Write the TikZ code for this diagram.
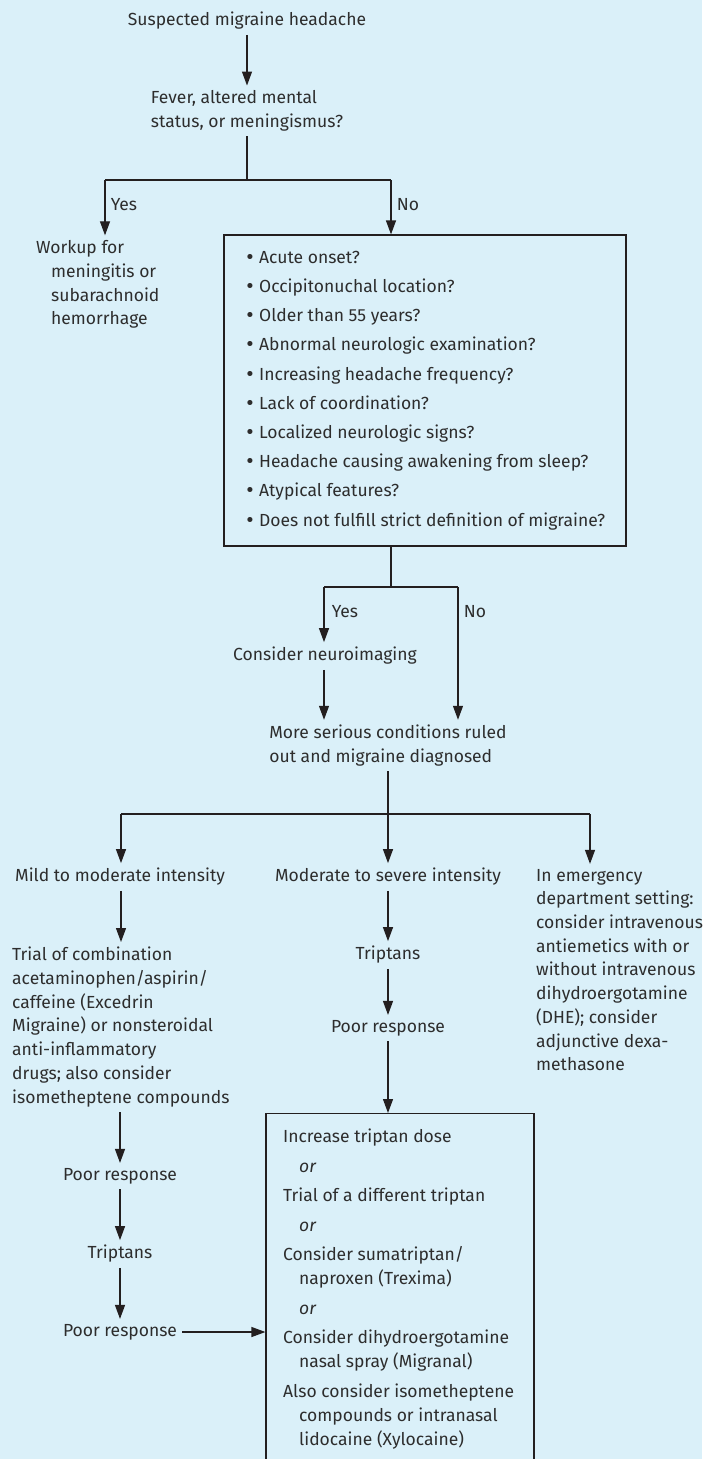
\documentclass[tikz,border=0pt]{standalone}
\usepackage{fontspec}
\setmainfont{Fira Sans}
\newfontfamily\bulfont{DejaVu Sans}
\usetikzlibrary{arrows.meta}
\definecolor{bgc}{RGB}{218,240,249}
\definecolor{txtc}{RGB}{45,45,45}
\definecolor{lnc}{RGB}{35,31,32}
\newcommand{\bul}{{\bulfont •}\hspace{4pt}}
\begin{document}
\begin{tikzpicture}[x=1pt,y=-1pt,
  lbl/.style={inner sep=5pt, text=txtc, font=\fontsize{17.5}{23.7}\selectfont, align=left},
  critbox/.style={draw=lnc, line width=1.2pt, minimum width=402pt, minimum height=311pt,
     inner xsep=10pt, text=txtc, font=\fontsize{17.5}{29.2}\selectfont, align=left},
  finalbox/.style={draw=lnc, line width=1.2pt, minimum width=268pt, minimum height=400pt, inner sep=0pt},
  finaltext/.style={inner sep=0pt, text=txtc, font=\fontsize{17.5}{24}\selectfont, align=left},
  conn/.style={draw=lnc, line width=1.2pt},
  arr/.style={conn, -{Triangle[length=14pt,width=10pt]}}
]
\useasboundingbox (0,0) rectangle (702,1459);
\fill[bgc] (0,0) rectangle (702,1459);
\begin{scope}
\clip (0,0) rectangle (702,1459);

% nodes
\node[lbl] (start) at (247,21) {Suspected migraine headache};
\node[lbl] (fever) at (247,111) {Fever, altered mental\\status, or meningismus?};
\node[lbl, anchor=west] (workup) at (31,284.5) {Workup for\\\hspace*{15pt}meningitis or\\\hspace*{15pt}subarachnoid\\\hspace*{15pt}hemorrhage};
\node[critbox] (crit) at (425,390.5) {%
\bul Acute onset?\\
\bul Occipitonuchal location?\\
\bul Older than 55 years?\\
\bul Abnormal neurologic examination?\\
\bul Increasing headache frequency?\\
\bul Lack of coordination?\\
\bul Localized neurologic signs?\\
\bul Headache causing awakening from sleep?\\
\bul Atypical features?\\
\bul Does not fulfill strict definition of migraine?};
\node[lbl] (yes1) at (124,205) {Yes};
\node[lbl] (no1) at (408,205) {No};
\node[lbl] (yes2) at (345,612) {Yes};
\node[lbl] (no2) at (475,612) {No};
\node[lbl] (neuro) at (325,656) {Consider neuroimaging};
\node[lbl] (serious) at (388,745.5) {More serious conditions ruled\\out and migraine diagnosed};
\node[lbl] (mild) at (120,877) {Mild to moderate intensity};
\node[lbl] (moderate) at (388,877) {Moderate to severe intensity};
\node[lbl, anchor=west] (ed) at (531,970) {In emergency\\department setting:\\consider intravenous\\antiemetics with or\\without intravenous\\dihydroergotamine\\(DHE); consider\\adjunctive dexa-\\methasone};
\node[lbl, anchor=west] (trial) at (7,1027) {Trial of combination\\acetaminophen/aspirin/\\caffeine (Excedrin\\Migraine) or nonsteroidal\\anti-inflammatory\\drugs; also consider\\isometheptene compounds};
\node[lbl] (trip1) at (388,955) {Triptans};
\node[lbl] (poor1) at (388,1028) {Poor response};
\node[lbl] (poor2) at (120,1176) {Poor response};
\node[lbl] (trip2) at (120,1254) {Triptans};
\node[lbl] (poor3) at (120,1332) {Poor response};
\node[finalbox, anchor=north] (final) at (400,1113) {};
\node[finaltext, anchor=north west] (finaltxt) at (283,1129) {Increase triptan dose\\[5.5pt]
\hspace*{16pt}\textit{or}\\[5.5pt]
Trial of a different triptan\\[5.5pt]
\hspace*{16pt}\textit{or}\\[5.5pt]
Consider sumatriptan/\\
\hspace*{16pt}naproxen (Trexima)\\[5.5pt]
\hspace*{16pt}\textit{or}\\[5.5pt]
Consider dihydroergotamine\\
\hspace*{16pt}nasal spray (Migranal)\\[5.5pt]
Also consider isometheptene\\
\hspace*{16pt}compounds or intranasal\\
\hspace*{16pt}lidocaine (Xylocaine)};

% junction coordinates
\coordinate (j1) at (247,180);
\coordinate (j1l) at (105,180);
\coordinate (j1r) at (391,180);
\coordinate (j2) at (391,587);
\coordinate (j2l) at (324,587);
\coordinate (j2r) at (458,587);
\coordinate (j3) at (388,814);
\coordinate (j3l) at (121,814);
\coordinate (j3r) at (590,814);

% connectors
\draw[arr] (start) -- (fever);
\draw[conn] (fever) -- (j1);
\draw[conn] (j1l) -- (j1r);
\draw[arr] (j1l) -- (j1l |- workup.north);
\draw[arr] (j1r) -- (j1r |- crit.north);
\draw[conn] (j1r |- crit.south) -- (j2);
\draw[conn] (j2l) -- (j2r);
\draw[arr] (j2l) -- (j2l |- neuro.north);
\draw[arr] (j2r) -- (j2r |- serious.north);
\draw[arr] (neuro.south -| j2l) -- (j2l |- serious.north);
\draw[conn] (serious) -- (j3);
\draw[conn] (j3l) -- (j3r);
\draw[arr] (j3l) -- (j3l |- mild.north);
\draw[arr] (j3) -- (moderate);
\draw[arr] (j3r) -- (j3r |- ed.north);
\draw[arr] (mild.south -| j3l) -- (j3l |- trial.north);
\draw[arr] (moderate) -- (trip1);
\draw[arr] (trip1) -- (poor1);
\draw[arr] (poor1) -- (poor1 |- final.north);
\draw[arr] (trial.south -| poor2) -- (poor2);
\draw[arr] (poor2) -- (trip2);
\draw[arr] (trip2) -- (poor3);
\draw[arr] (poor3.east) -- (poor3.east -| final.west);
\end{scope}
\end{tikzpicture}
\end{document}
